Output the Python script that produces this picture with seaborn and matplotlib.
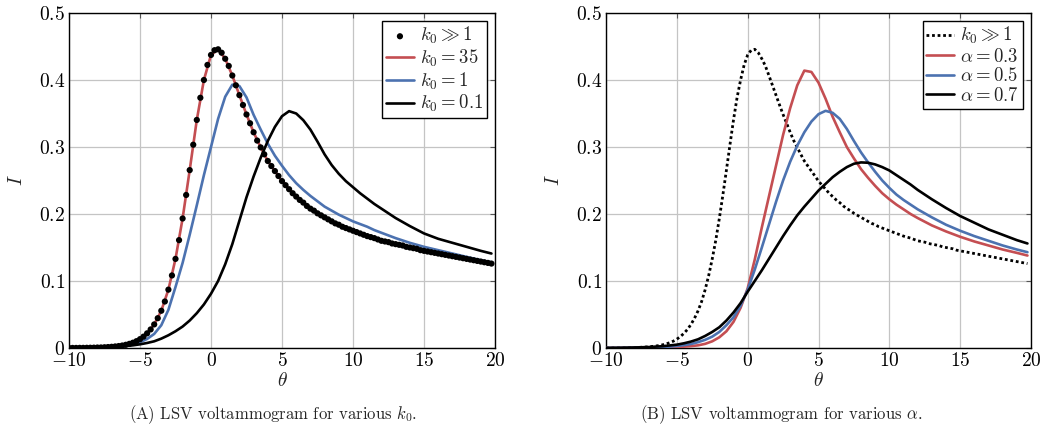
import matplotlib
matplotlib.use("Agg")
import matplotlib.pyplot as plt
import seaborn as sns

# ---------------- data ----------------
theta_dots = [-10, -9.75, -9.5, -9.25, -9, -8.75, -8.5, -8.25, -8, -7.75, -7.5, -7.25,
              -7, -6.75, -6.5, -6.25, -6, -5.75, -5.5, -5.25, -5, -4.75, -4.5, -4.25,
              -4, -3.75, -3.5, -3.25, -3, -2.75, -2.5, -2.25, -2, -1.75, -1.5, -1.25,
              -1, -0.75, -0.5, -0.25, 0, 0.25, 0.5, 0.75, 1, 1.25, 1.5, 1.75,
              2, 2.25, 2.5, 2.75, 3, 3.25, 3.5, 3.75, 4, 4.25, 4.5, 4.75,
              5, 5.25, 5.5, 5.75, 6, 6.25, 6.5, 6.75, 7, 7.25, 7.5, 7.75,
              8, 8.25, 8.5, 8.75, 9, 9.25, 9.5, 9.75, 10, 10.25, 10.5, 10.75,
              11, 11.25, 11.5, 11.75, 12, 12.25, 12.5, 12.75, 13, 13.25, 13.5, 13.75,
              14, 14.25, 14.5, 14.75, 15, 15.25, 15.5, 15.75, 16, 16.25, 16.5, 16.75,
              17, 17.25, 17.5, 17.75, 18, 18.25, 18.5, 18.75, 19, 19.25, 19.5, 19.75]
I_rev = [0.0001, 0.0001, 0.0001, 0.0002, 0.0002, 0.0003, 0.0004, 0.0005, 0.0007, 0.0008, 0.0011, 0.0014,
         0.0018, 0.0023, 0.0029, 0.0037, 0.0048, 0.0062, 0.0079, 0.0102, 0.0132, 0.0170, 0.0219, 0.0277,
         0.0352, 0.0445, 0.0556, 0.0694, 0.0871, 0.1083, 0.1330, 0.1610, 0.1933, 0.2284, 0.2655, 0.3034,
         0.3404, 0.3735, 0.4000, 0.4225, 0.4374, 0.4445, 0.4458, 0.4407, 0.4317, 0.4210, 0.4067, 0.3921,
         0.3774, 0.3627, 0.3485, 0.3354, 0.3220, 0.3096, 0.2994, 0.2891, 0.2791, 0.2716, 0.2641, 0.2567,
         0.2491, 0.2430, 0.2370, 0.2310, 0.2260, 0.2210, 0.2170, 0.2120, 0.2080, 0.2050, 0.2010, 0.1980,
         0.1950, 0.1920, 0.1890, 0.1860, 0.1840, 0.1810, 0.1790, 0.1770, 0.1750, 0.1730, 0.1710, 0.1690,
         0.1670, 0.1655, 0.1640, 0.1620, 0.1600, 0.1590, 0.1580, 0.1560, 0.1550, 0.1540, 0.1530, 0.1510,
         0.1500, 0.1490, 0.1480, 0.1460, 0.1450, 0.1440, 0.1430, 0.1420, 0.1410, 0.1400, 0.1390, 0.1380,
         0.1370, 0.1360, 0.1350, 0.1340, 0.1330, 0.1320, 0.1310, 0.1300, 0.1290, 0.1280, 0.1270, 0.1260]

theta_line = [-10, -9, -8, -7, -6, -5.5, -5, -4.5, -4, -3.5, -3, -2.5, -2, -1.5, -1, -0.5,
              0, 0.5, 1, 1.5, 2, 2.5, 3, 3.5, 4, 4.5, 5, 5.5, 6, 6.5, 7, 7.5, 8,
              8.5, 9, 9.5, 10, 10.5, 11, 11.5, 12, 13, 14, 15, 16, 17, 18, 19, 19.75]

# panel A: various k0
I_k35 = [0.0001, 0.0002, 0.0007, 0.0018, 0.0048, 0.0079, 0.0132, 0.0219, 0.0352, 0.0556, 0.0871, 0.1330,
         0.1933, 0.2655, 0.3404, 0.4000, 0.4374, 0.4458, 0.4317, 0.4067, 0.3774, 0.3485, 0.3220, 0.2994,
         0.2791, 0.2641, 0.2491, 0.2370, 0.2260, 0.2170, 0.2080, 0.2010, 0.1950,
         0.1890, 0.1840, 0.1790, 0.1750, 0.1710, 0.1670, 0.1640, 0.1600,
         0.1550, 0.1500, 0.1450, 0.1410, 0.1370, 0.1330, 0.1290, 0.1260]
I_k1 = [0.0001, 0.0002, 0.0005, 0.0012, 0.0032, 0.0052, 0.0085, 0.0135, 0.0210, 0.0340, 0.0570, 0.0910,
        0.1270, 0.1690, 0.2130, 0.2580, 0.3000, 0.3420, 0.3750, 0.3930, 0.3910, 0.3740, 0.3480, 0.3260,
        0.3050, 0.2870, 0.2720, 0.2580, 0.2460, 0.2360, 0.2270, 0.2190, 0.2110,
        0.2050, 0.1990, 0.1940, 0.1890, 0.1850, 0.1810, 0.1760, 0.1720,
        0.1640, 0.1570, 0.1510, 0.1460, 0.1410, 0.1360, 0.1310, 0.1280]
I_k01 = [0.0002, 0.0004, 0.0008, 0.0015, 0.0030, 0.0040, 0.0055, 0.0075, 0.0100, 0.0140, 0.0190, 0.0250,
         0.0320, 0.0410, 0.0520, 0.0650, 0.0810, 0.1000, 0.1250, 0.1550, 0.1900, 0.2250, 0.2560, 0.2840,
         0.3090, 0.3300, 0.3460, 0.3535, 0.3500, 0.3400, 0.3260, 0.3080, 0.2890,
         0.2730, 0.2600, 0.2490, 0.2400, 0.2310, 0.2230, 0.2150, 0.2080,
         0.1940, 0.1820, 0.1710, 0.1630, 0.1570, 0.1510, 0.1450, 0.1410]

# panel B: various alpha
I_a03 = [0.0000, 0.0001, 0.0002, 0.0004, 0.0007, 0.0010, 0.0014, 0.0020, 0.0028, 0.0040, 0.0062, 0.0100,
         0.0160, 0.0250, 0.0390, 0.0600, 0.0890, 0.1320, 0.1800, 0.2260, 0.2720, 0.3180, 0.3580, 0.3920,
         0.4140, 0.4120, 0.3960, 0.3720, 0.3450, 0.3220, 0.3000, 0.2830, 0.2670,
         0.2540, 0.2420, 0.2310, 0.2220, 0.2140, 0.2070, 0.2000, 0.1940,
         0.1830, 0.1740, 0.1660, 0.1590, 0.1530, 0.1470, 0.1420, 0.1380]
I_a05 = [0.0001, 0.0002, 0.0004, 0.0008, 0.0015, 0.0021, 0.0030, 0.0043, 0.0060, 0.0087, 0.0122, 0.0170,
         0.0240, 0.0340, 0.0460, 0.0630, 0.0870, 0.1170, 0.1500, 0.1840, 0.2180, 0.2500, 0.2780, 0.3020,
         0.3220, 0.3380, 0.3490, 0.3540, 0.3510, 0.3420, 0.3270, 0.3090, 0.2920,
         0.2770, 0.2630, 0.2500, 0.2390, 0.2290, 0.2210, 0.2140, 0.2070,
         0.1950, 0.1840, 0.1750, 0.1670, 0.1600, 0.1530, 0.1470, 0.1430]
I_a07 = [0.0002, 0.0004, 0.0008, 0.0014, 0.0027, 0.0038, 0.0050, 0.0070, 0.0096, 0.0130, 0.0180, 0.0240,
         0.0310, 0.0410, 0.0530, 0.0670, 0.0840, 0.1000, 0.1160, 0.1330, 0.1500, 0.1670, 0.1830, 0.1980,
         0.2110, 0.2230, 0.2350, 0.2450, 0.2550, 0.2630, 0.2700, 0.2750, 0.2770,
         0.2765, 0.2740, 0.2700, 0.2650, 0.2580, 0.2510, 0.2440, 0.2360,
         0.2220, 0.2090, 0.1970, 0.1870, 0.1770, 0.1690, 0.1610, 0.1560]

x_ticks = [-10, -5, 0, 5, 10, 15, 20]
x_ticklabels = [r"$-10$", r"$-5$", r"$0$", r"$5$", r"$10$", r"$15$", r"$20$"]
y_ticks = [0, 0.1, 0.2, 0.3, 0.4, 0.5]
y_ticklabels = [r"$0$", r"$0.1$", r"$0.2$", r"$0.3$", r"$0.4$", r"$0.5$"]

labels_a = [r"$k_0 \gg 1$", r"$k_0 = 35$", r"$k_0 = 1$", r"$k_0 = 0.1$"]
labels_b = [r"$k_0 \gg 1$", r"$\alpha = 0.3$", r"$\alpha = 0.5$", r"$\alpha = 0.7$"]
caption_a = r"(A) LSV voltammogram for various $k_0$."
caption_b = r"(B) LSV voltammogram for various $\alpha$."

RED = "#C44E52"
BLUE = "#4C72B0"
BLACK = "#000000"

# ---------------- style ----------------
sns.set_theme(style="whitegrid")
plt.rcParams.update({
    "font.family": "serif",
    "font.serif": ["cmr10", "DejaVu Serif"],
    "mathtext.fontset": "cm",
    "axes.formatter.use_mathtext": True,
    "axes.edgecolor": "black",
    "axes.linewidth": 1.0,
    "grid.color": "#c4c4c4",
    "grid.linewidth": 0.9,
    "xtick.direction": "in",
    "ytick.direction": "in",
    "xtick.color": "#555555",
    "ytick.color": "#555555",
    "xtick.labelcolor": "black",
    "ytick.labelcolor": "black",
})

fig = plt.figure(figsize=(10.43, 4.36), dpi=100)
axA = fig.add_axes([69 / 1043, 88 / 436, 426 / 1043, 335 / 436])
axB = fig.add_axes([606 / 1043, 88 / 436, 425 / 1043, 335 / 436])

LW = 1.9

# panel A
sns.lineplot(x=theta_line, y=I_k35, ax=axA, color=RED, lw=LW, label=labels_a[1], zorder=3)
sns.lineplot(x=theta_line, y=I_k1, ax=axA, color=BLUE, lw=LW, label=labels_a[2], zorder=3)
sns.lineplot(x=theta_line, y=I_k01, ax=axA, color=BLACK, lw=LW, label=labels_a[3], zorder=3)
sns.scatterplot(x=theta_dots, y=I_rev, ax=axA, color="black", s=20, edgecolor="none",
                label=labels_a[0], zorder=4)

# panel B
sns.lineplot(x=theta_dots, y=I_rev, ax=axB, color=BLACK, lw=2.0, label=labels_b[0], zorder=3)
axB.lines[-1].set_linestyle((0, (1.0, 1.0)))
sns.lineplot(x=theta_line, y=I_a03, ax=axB, color=RED, lw=LW, label=labels_b[1], zorder=3)
sns.lineplot(x=theta_line, y=I_a05, ax=axB, color=BLUE, lw=LW, label=labels_b[2], zorder=3)
sns.lineplot(x=theta_line, y=I_a07, ax=axB, color=BLACK, lw=LW, label=labels_b[3], zorder=3)

for ax, labels in ((axA, labels_a), (axB, labels_b)):
    ax.set_xlim(-10, 20)
    ax.set_ylim(0, 0.5)
    ax.set_xticks(x_ticks)
    ax.set_xticklabels(x_ticklabels, fontsize=14)
    ax.set_yticks(y_ticks)
    ax.set_yticklabels(y_ticklabels, fontsize=14)
    ax.tick_params(axis="both", which="both", length=3.5, width=0.8,
                   top=True, right=True, pad=3)
    ax.grid(True, zorder=0)
    ax.set_axisbelow(True)
    for sp in ax.spines.values():
        sp.set_color("black")
        sp.set_linewidth(1.0)
    ax.set_xlabel(r"$\theta$", fontsize=14, labelpad=1)
    ax.set_ylabel(r"$I$", fontsize=14, labelpad=9)
    handles, labs = ax.get_legend_handles_labels()
    order = [labs.index(l) for l in labels]
    leg = ax.legend([handles[i] for i in order], [labs[i] for i in order],
                    loc="upper right", fontsize=13.5, frameon=True, fancybox=False,
                    framealpha=1, edgecolor="black", handlelength=1.5,
                    handletextpad=0.3, borderpad=0.2, labelspacing=0.08,
                    borderaxespad=0.45)
    leg.get_frame().set_linewidth(1.0)
    leg.set_zorder(10)

fig.text(273 / 1043, 1 - 415 / 436, caption_a, ha="center", va="center", fontsize=12)
fig.text(781 / 1043, 1 - 415 / 436, caption_b, ha="center", va="center", fontsize=12)

fig.savefig("out.png", dpi=100, facecolor="white")
